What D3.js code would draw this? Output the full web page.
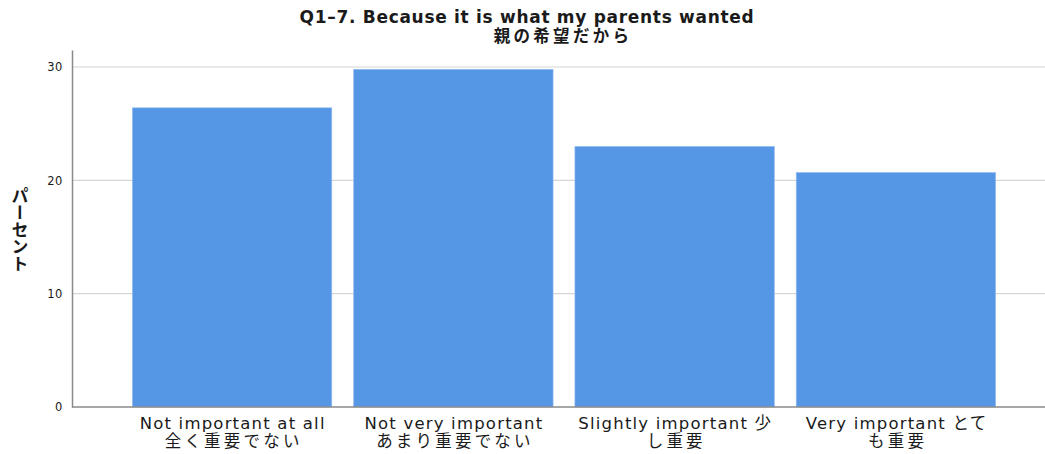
<!DOCTYPE html>
<html>
<head>
<meta charset="utf-8">
<script src="https://cdn.jsdelivr.net/npm/d3@7"></script>
<style>
  body { margin: 0; background: #fff; }
  text { font-family: "DejaVu Sans", "Noto Sans CJK JP", sans-serif; fill: #1a1a1a; }
</style>
</head>
<body>
<script>
// données
const categories = ['c1', 'c2', 'c3', 'c4'];
const etiquettes = [
  ['Not important at all', '全く重要でない'],
  ['Not very important', 'あまり重要でない'],
  ['Slightly important 少', 'し重要'],
  ['Very important とて', 'も重要']
];
const pourcentages = [26.4, 29.8, 23.0, 20.7];
const graduations = [0, 10, 20, 30];
const titre = ['Q1\u20137. Because it is what my parents wanted', '親の希望だから'];
const titreAxeY = 'パーセント';

const largeur = 1045, hauteur = 454;
const gauche = 72, bas = 407, haut = 50;

const canevas = d3.select('body')
  .append('svg')
  .attr('width', largeur)
  .attr('height', hauteur);

// échelles
const x = d3.scaleBand()
  .domain(categories)
  .range([121.4, 1006.6])
  .paddingInner(0.0985)
  .paddingOuter(0.0493);
const y = d3.scaleLinear()
  .domain([0, 31.5])
  .range([bas, haut]);

// grille
canevas.append('g')
  .selectAll('line')
  .data(graduations.filter(d => d > 0))
  .enter()
  .append('line')
  .attr('x1', gauche)
  .attr('x2', largeur)
  .attr('y1', d => y(d))
  .attr('y2', d => y(d))
  .attr('stroke', '#d6d6d6')
  .attr('stroke-width', 1.2);

// barres
canevas.append('g')
  .selectAll('rect')
  .data(pourcentages)
  .enter()
  .append('rect')
  .attr('x', (d, i) => x(categories[i]))
  .attr('width', x.bandwidth())
  .attr('y', d => y(d))
  .attr('height', d => y(0) - y(d))
  .attr('fill', '#5596e5')
  .attr('stroke', '#9cc2f0')
  .attr('stroke-width', 0.6);

// axe Y
const axeY = canevas.append('g')
  .attr('transform', `translate(${gauche},0)`)
  .call(d3.axisLeft(y).tickValues(graduations).tickSize(0).tickPadding(9));
axeY.select('.domain').attr('stroke', '#8a8a8a').attr('stroke-width', 1.5);
axeY.selectAll('text')
  .style('font-size', '11.5px')
  .style('letter-spacing', '0.6px')
  .attr('fill', '#111');

// axe X
canevas.append('line')
  .attr('x1', gauche)
  .attr('x2', largeur)
  .attr('y1', y(0))
  .attr('y2', y(0))
  .attr('stroke', '#8a8a8a')
  .attr('stroke-width', 1.5);

// 1re ligne latine, 2e ligne en japonais (police un peu plus grande)
const taille = j => j === 0 ? 16.5 : 16.5;
const espace = j => j === 0 ? 1.2 : 3.2;

const etiqX = canevas.append('g')
  .selectAll('text')
  .data(etiquettes)
  .enter()
  .append('text')
  .attr('text-anchor', 'middle')
  .attr('transform', (d, i) => `translate(${x(categories[i]) + x.bandwidth() / 2},0)`);
etiqX.selectAll('tspan')
  .data(d => d)
  .enter()
  .append('tspan')
  .attr('x', (d, j) => espace(j) / 2)
  .attr('y', (d, j) => 428.5 + j * 18.5)
  .style('font-size', (d, j) => taille(j) + 'px')
  .style('letter-spacing', (d, j) => espace(j) + 'px')
  .text(d => d);

// titre
canevas.append('text')
  .attr('x', 527)
  .attr('y', 23)
  .attr('text-anchor', 'middle')
  .style('font-size', '17px')
  .style('font-weight', 'bold')
  .style('letter-spacing', '0.7px')
  .attr('fill', '#111')
  .text(titre[0]);
canevas.append('text')
  .attr('x', 563)
  .attr('y', 42)
  .attr('text-anchor', 'middle')
  .style('font-size', '16.5px')
  .style('font-weight', 'bold')
  .style('letter-spacing', '3.3px')
  .attr('fill', '#111')
  .text(titre[1]);

// titre de l'axe Y, écrit verticalement
canevas.append('text')
  .attr('x', 20)
  .attr('y', 230)
  .attr('text-anchor', 'middle')
  .style('writing-mode', 'vertical-rl')
  .style('text-orientation', 'upright')
  .style('font-family', '"Noto Sans CJK JP", sans-serif')
  .style('font-size', '17px')
  .style('font-weight', 'bold')
  .attr('fill', '#111')
  .text(titreAxeY);
</script>
</body>
</html>
